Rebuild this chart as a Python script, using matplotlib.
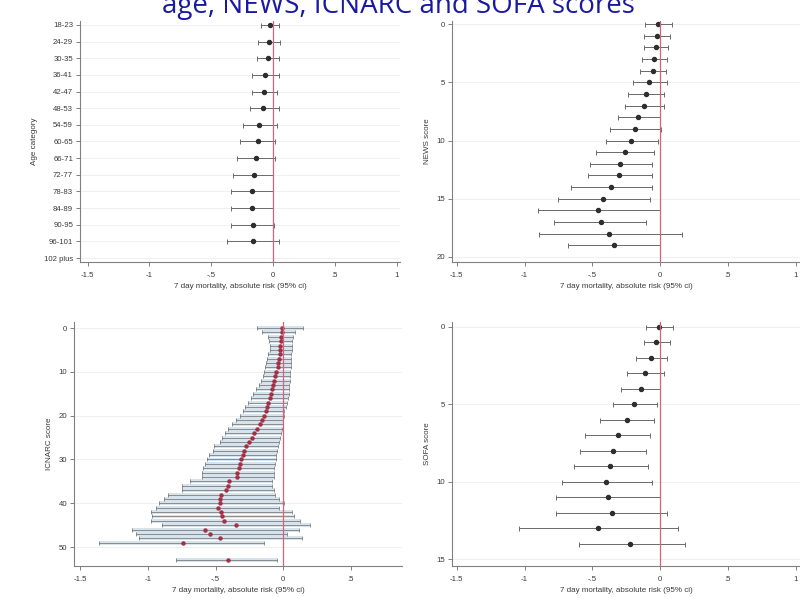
import matplotlib
matplotlib.use("Agg")
import matplotlib.pyplot as plt
import numpy as np

# ---------------- data ----------------
age_labels = ["18-23", "24-29", "30-35", "36-41", "42-47", "48-53", "54-59", "60-65",
              "66-71", "72-77", "78-83", "84-89", "90-95", "96-101", "102 plus"]
age_est = [-0.027, -0.036, -0.04, -0.063, -0.07, -0.077, -0.11, -0.12, -0.14, -0.15, -0.17, -0.17, -0.16, -0.16, np.nan]
age_lo = [-0.096, -0.12, -0.13, -0.17, -0.17, -0.19, -0.24, -0.27, -0.29, -0.32, -0.34, -0.34, -0.34, -0.37, np.nan]
age_hi = [0.046, 0.06, 0.046, 0.046, 0.03, 0.046, 0.03, 0.02, 0.02, 0.0, 0.0, 0.0, 0.01, 0.046, np.nan]

news_score = list(range(20))
news_est = [-0.012, -0.025, -0.03, -0.042, -0.054, -0.079, -0.104, -0.116, -0.16, -0.185,
            -0.215, -0.26, -0.296, -0.30, -0.365, -0.42, -0.457, -0.432, -0.375, -0.338]
news_lo = [-0.11, -0.116, -0.116, -0.136, -0.148, -0.20, -0.235, -0.26, -0.31, -0.37,
           -0.395, -0.47, -0.52, -0.53, -0.66, -0.75, -0.90, -0.78, -0.89, -0.68]
news_hi = [0.086, 0.07, 0.062, 0.05, 0.044, 0.05, 0.032, 0.032, 0.0, 0.007,
           -0.012, -0.042, -0.062, -0.062, -0.062, -0.074, 0.0, -0.10, 0.16, 0.0]

icnarc_score = list(range(50)) + [53]
icnarc_est = [-0.01, -0.01, -0.015, -0.015, -0.02, -0.02, -0.025, -0.03, -0.035, -0.04,
              -0.05, -0.06, -0.07, -0.075, -0.085, -0.09, -0.10, -0.115, -0.12, -0.13,
              -0.14, -0.16, -0.17, -0.19, -0.215, -0.23, -0.25, -0.275, -0.29, -0.30,
              -0.31, -0.32, -0.33, -0.34, -0.34, -0.40, -0.41, -0.42, -0.46, -0.47,
              -0.47, -0.48, -0.46, -0.45, -0.44, -0.35, -0.58, -0.54, -0.47, -0.74,
              -0.41]
icnarc_lo = [-0.195, -0.16, -0.11, -0.105, -0.10, -0.10, -0.11, -0.12, -0.13, -0.135,
             -0.14, -0.15, -0.165, -0.18, -0.20, -0.22, -0.24, -0.26, -0.28, -0.30,
             -0.32, -0.35, -0.38, -0.41, -0.43, -0.45, -0.47, -0.51, -0.52, -0.55,
             -0.56, -0.58, -0.59, -0.60, -0.60, -0.69, -0.75, -0.75, -0.85, -0.88,
             -0.92, -0.94, -0.98, -0.97, -0.98, -0.90, -1.12, -1.09, -1.07, -1.36,
             -0.79]
icnarc_hi = [0.15, 0.09, 0.07, 0.065, 0.065, 0.065, 0.06, 0.06, 0.058, 0.055,
             0.054, 0.05, 0.048, 0.045, 0.042, 0.04, 0.035, 0.03, 0.02, 0.01,
             0.005, 0.0, 0.0, -0.01, -0.015, -0.02, -0.03, -0.035, -0.044, -0.05,
             -0.056, -0.06, -0.065, -0.068, -0.07, -0.08, -0.08, -0.07, -0.06, -0.03,
             0.005, -0.03, 0.066, 0.08, 0.127, 0.20, 0.115, 0.03, 0.14, -0.14,
             -0.044]

sofa_score = list(range(15))
sofa_est = [-0.005, -0.03, -0.067, -0.11, -0.143, -0.19, -0.24, -0.31, -0.346, -0.37,
            -0.395, -0.383, -0.353, -0.457, -0.22]
sofa_lo = [-0.10, -0.12, -0.18, -0.24, -0.29, -0.35, -0.44, -0.55, -0.59, -0.635,
           -0.72, -0.77, -0.765, -1.04, -0.60]
sofa_hi = [0.094, 0.074, 0.05, 0.032, 0.0, -0.025, -0.042, -0.074, -0.10, -0.086,
           -0.057, 0.0, 0.05, 0.13, 0.185]

xticks = [-1.5, -1, -0.5, 0, 0.5, 1]
xticklabels = ["-1.5", "-1", "-.5", "0", ".5", "1"]
xlabel = "7 day mortality, absolute risk (95% ci)"
title = "age, NEWS, ICNARC and SOFA scores"

# ---------------- figure ----------------
W, H = 800, 598
fig = plt.figure(figsize=(W / 100, H / 100), dpi=100)
fig.patch.set_facecolor("white")
plt.rcParams["font.family"] = ["Liberation Sans", "DejaVu Sans"]

def px_axes(x0, x1, y0, y1):
    return fig.add_axes([x0 / W, 1 - y1 / H, (x1 - x0) / W, (y1 - y0) / H])

AX_COL = "#808080"
TXT_COL = "#3a3a3a"
CI_COL = "#6a6a6a"
ZERO_COL = "#d9607a"

def style(ax, ylab, yticks, yticklabels, xlim, ylim):
    for s in ["top", "right"]:
        ax.spines[s].set_visible(False)
    for s in ["left", "bottom"]:
        ax.spines[s].set_color(AX_COL)
        ax.spines[s].set_linewidth(0.8)
    ax.set_xticks(xticks)
    ax.set_xticklabels(xticklabels)
    ax.set_yticks(yticks)
    ax.set_yticklabels(yticklabels)
    ax.tick_params(axis="both", labelsize=5.6, colors=TXT_COL, length=3, width=0.7)
    ax.tick_params(axis="x", pad=4)
    ax.tick_params(axis="y", pad=2)
    ax.tick_params(axis="both", color=AX_COL)
    for yt in yticks:
        ax.axhline(yt, color="#eeeeee", lw=0.6, zorder=0)
    ax.axvline(0, color=ZERO_COL, lw=0.9, zorder=4)
    ax.set_xlabel(xlabel, fontsize=5.8, color=TXT_COL, labelpad=3)
    ax.set_ylabel(ylab, fontsize=5.8, color=TXT_COL, labelpad=4)
    ax.set_xlim(*xlim)
    ax.set_ylim(*ylim)

def ci_plot(ax, y, est, lo, hi, ms=2.9, mcol="#2e2e2e"):
    y = np.asarray(y, float)
    est = np.asarray(est, float)
    lo = np.asarray(lo, float)
    hi = np.asarray(hi, float)
    ok = ~np.isnan(est)
    ax.errorbar(est[ok], y[ok], xerr=[est[ok] - lo[ok], hi[ok] - est[ok]], fmt="o",
                ms=ms, color=mcol, ecolor=CI_COL, elinewidth=0.7, capsize=1.8,
                capthick=0.7, zorder=3)

# Panel 1: age
ax1 = px_axes(80, 400, 21, 262)
ypos = np.arange(len(age_labels))
ci_plot(ax1, ypos, age_est, age_lo, age_hi)
style(ax1, "Age category", ypos, age_labels, (-1.561, 1.027), (14.24, -0.24))

# Panel 2: NEWS
ax2 = px_axes(452, 800, 21, 262)
ci_plot(ax2, news_score, news_est, news_lo, news_hi)
style(ax2, "NEWS score", [0, 5, 10, 15, 20], ["0", "5", "10", "15", "20"],
      (-1.535, 1.033), (20.43, -0.26))

# Panel 3: ICNARC
ax3 = px_axes(74, 402, 322, 566)
ic_y = np.asarray(icnarc_score, float)
ic_lo = np.asarray(icnarc_lo)
ic_hi = np.asarray(icnarc_hi)
ic_est = np.asarray(icnarc_est)
ax3.barh(ic_y, ic_hi - ic_lo, left=ic_lo, height=0.9, color="#d6e3ec", edgecolor="none", zorder=1)
ax3.errorbar(ic_est, ic_y, xerr=[ic_est - ic_lo, ic_hi - ic_est],
             fmt="o", ms=2.2, color="#a33045", ecolor="#6a6a6a", elinewidth=0.5,
             capsize=1.2, capthick=0.5, zorder=3)
style(ax3, "ICNARC score", [0, 10, 20, 30, 40, 50], ["0", "10", "20", "30", "40", "50"],
      (-1.548, 0.88), (54.3, -1.37))

# Panel 4: SOFA
ax4 = px_axes(452, 800, 322, 566)
ci_plot(ax4, sofa_score, sofa_est, sofa_lo, sofa_hi)
style(ax4, "SOFA score", [0, 5, 10, 15], ["0", "5", "10", "15"],
      (-1.535, 1.033), (15.45, -0.32))

# Title (cut off at top, as in reference)
fig.text(398 / W, 1 - 13.5 / H, title, ha="center", va="baseline", fontsize=20,
         color="#1a1aa0", family=["Open Sans", "DejaVu Sans"])

fig.savefig("out.png", dpi=100, facecolor="white")
